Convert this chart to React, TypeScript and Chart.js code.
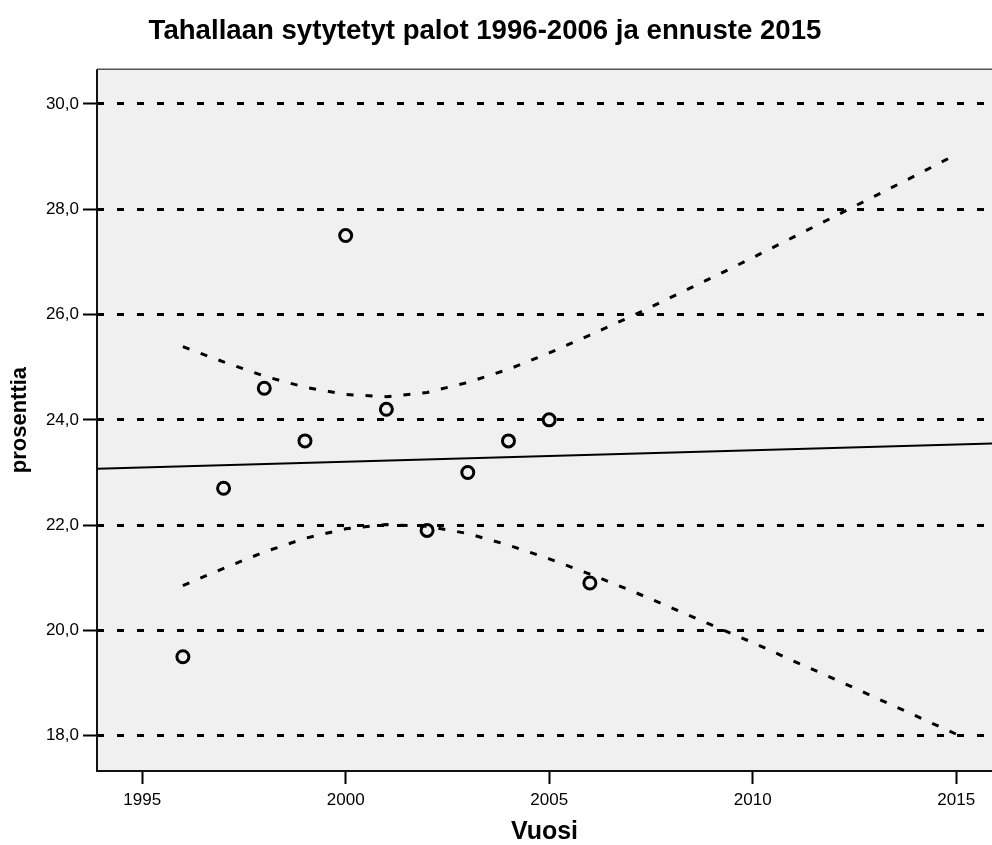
import React, { useEffect, useRef } from "react";
import { Chart, registerables } from "chart.js";

Chart.register(...registerables);

const chartTitle = "Tahallaan sytytetyt palot 1996-2006 ja ennuste 2015";
const xTitle = "Vuosi";
const yTitle = "prosenttia";

const years = [1996, 1997, 1998, 1999, 2000, 2001, 2002, 2003, 2004, 2005, 2006];
const percent = [19.5, 22.7, 24.6, 23.6, 27.5, 24.2, 21.9, 23.0, 23.6, 24.0, 20.9];

const fitYears = [1993.9, 2015.9];
const fitValues = [23.07, 23.55];

const bandYears = [
  1996, 1997, 1998, 1999, 2000, 2001, 2002, 2003, 2004, 2005,
  2006, 2007, 2008, 2009, 2010, 2011, 2012, 2013, 2014, 2015,
];
const upperBand = [
  25.39, 25.1, 24.83, 24.62, 24.48, 24.44, 24.52, 24.71, 24.96, 25.27,
  25.61, 25.96, 26.33, 26.7, 27.08, 27.47, 27.86, 28.25, 28.64, 29.04,
];
const lowerBand = [
  20.85, 21.18, 21.49, 21.75, 21.93, 22.01, 21.98, 21.84, 21.62, 21.36,
  21.07, 20.76, 20.43, 20.1, 19.77, 19.42, 19.08, 18.73, 18.38, 18.03,
];

const xTicks = [1995, 2000, 2005, 2010, 2015];
const yTicks = [18, 20, 22, 24, 26, 28, 30];

const FONT = "'Liberation Sans', Arial, sans-serif";
const TITLE_FONT = `bold 27.6px ${FONT}`;

const framePlugin = {
  id: "frame",
  beforeDraw(chart: any) {
    const { ctx, chartArea } = chart;
    const { left, top, right, bottom } = chartArea;
    ctx.save();
    ctx.fillStyle = "#ffffff";
    ctx.fillRect(0, 0, chart.width, chart.height);
    ctx.fillStyle = "#f0f0f0";
    ctx.fillRect(left, top, right - left, bottom - top);
    ctx.restore();
  },
  beforeDatasetsDraw(chart: any) {
    const { ctx, chartArea } = chart;
    const { left, top, right, bottom } = chartArea;
    ctx.save();
    ctx.strokeStyle = "#555555";
    ctx.lineWidth = 1.5;
    ctx.beginPath();
    ctx.moveTo(left, top);
    ctx.lineTo(right, top);
    ctx.stroke();
    ctx.strokeStyle = "#111111";
    ctx.lineWidth = 2;
    ctx.beginPath();
    ctx.moveTo(left, top);
    ctx.lineTo(left, bottom);
    ctx.lineTo(right, bottom);
    ctx.stroke();
    ctx.restore();
  },
  afterDraw(chart: any) {
    const { ctx } = chart;
    ctx.save();
    ctx.fillStyle = "#000";
    ctx.font = TITLE_FONT;
    ctx.textAlign = "center";
    ctx.textBaseline = "middle";
    ctx.fillText(chartTitle, 485, 31);
    ctx.restore();
  },
};

export default function App() {
  const canvasRef = useRef<HTMLCanvasElement | null>(null);

  useEffect(() => {
    if (!canvasRef.current) return;
    const chart = new Chart(canvasRef.current, {
      type: "scatter",
      data: {
        datasets: [
          {
            label: "upper",
            data: bandYears.map((x, i) => ({ x, y: upperBand[i] })),
            showLine: true,
            borderColor: "#000",
            borderWidth: 3,
            borderDash: [7, 12],
            pointRadius: 0,
            clip: 0,
          },
          {
            label: "lower",
            data: bandYears.map((x, i) => ({ x, y: lowerBand[i] })),
            showLine: true,
            borderColor: "#000",
            borderWidth: 3,
            borderDash: [7, 12],
            pointRadius: 0,
            clip: 0,
          },
          {
            label: "fit",
            data: fitYears.map((x, i) => ({ x, y: fitValues[i] })),
            showLine: true,
            borderColor: "#000",
            borderWidth: 2,
            pointRadius: 0,
            clip: 0,
          },
          {
            label: "prosenttia",
            data: years.map((x, i) => ({ x, y: percent[i] })),
            showLine: false,
            borderColor: "#000",
            backgroundColor: "rgba(0,0,0,0)",
            pointBackgroundColor: "rgba(0,0,0,0)",
            pointBorderColor: "#000",
            pointBorderWidth: 3,
            pointRadius: 6,
          },
        ],
      },
      options: {
        responsive: false,
        devicePixelRatio: 1,
        animation: false,
        events: [],
        layout: { padding: 0, autoPadding: false },
        plugins: {
          legend: { display: false },
          tooltip: { enabled: false },
          title: {
            display: true,
            text: chartTitle,
            color: "rgba(0,0,0,0)",
            font: { family: FONT, size: 26, weight: "bold" },
            padding: { top: 16, bottom: 22 },
          },
        },
        scales: {
          x: {
            type: "linear",
            min: 1993.89,
            max: 2015.88,
            afterBuildTicks: (scale: any) => {
              scale.ticks = xTicks.map((v) => ({ value: v }));
            },
            afterFit: (scale: any) => {
              scale.height = 74;
              scale.paddingLeft = 0;
              scale.paddingRight = 0;
            },
            ticks: {
              color: "#000",
              font: { family: FONT, size: 17 },
              padding: 6,
              maxRotation: 0,
              autoSkip: false,
              callback: (v: any) => String(v),
            },
            grid: {
              drawOnChartArea: false,
              drawTicks: true,
              tickLength: 13,
              tickWidth: 2,
              tickColor: "#000",
              color: "#000",
            },
            border: { display: false },
            title: {
              display: true,
              text: xTitle,
              color: "#000",
              font: { family: FONT, size: 25, weight: "bold", lineHeight: 1 },
              padding: { top: 0, bottom: 0 },
            },
          },
          y: {
            type: "linear",
            min: 17.33,
            max: 30.66,
            afterBuildTicks: (scale: any) => {
              scale.ticks = yTicks.map((v) => ({ value: v }));
            },
            afterFit: (scale: any) => {
              scale.width = 97;
              scale.paddingTop = 0;
              scale.paddingBottom = 0;
            },
            ticks: {
              color: "#000",
              font: { family: FONT, size: 17 },
              padding: 4,
              autoSkip: false,
              callback: (v: any) => Number(v).toFixed(1).replace(".", ","),
            },
            grid: {
              drawOnChartArea: true,
              drawTicks: true,
              tickLength: 14,
              tickWidth: 2,
              tickColor: "#000",
              color: "#000",
              lineWidth: 3,
            },
            border: { display: false, dash: [7, 13] },
            title: {
              display: true,
              text: yTitle,
              color: "#000",
              font: { family: FONT, size: 22, weight: "bold", lineHeight: 1 },
              padding: { top: 9, bottom: 0 },
            },
          },
        },
      },
      plugins: [framePlugin],
    } as any);
    return () => chart.destroy();
  }, []);

  return (
    <div style={{ position: "absolute", left: 0, top: 0, width: 992, height: 845, background: "#fff" }}>
      <canvas ref={canvasRef} width={992} height={845} style={{ display: "block" }} />
    </div>
  );
}
